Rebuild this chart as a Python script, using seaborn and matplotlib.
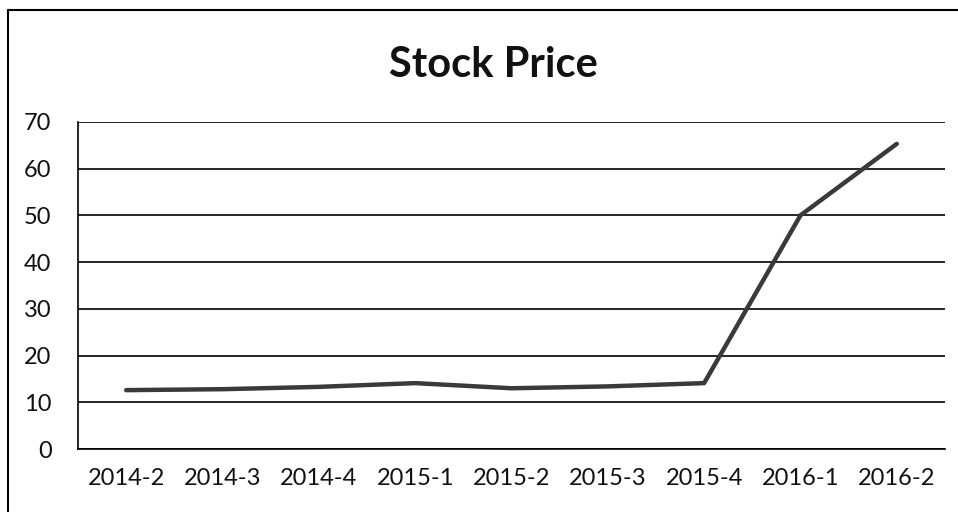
import numpy as np
import pandas as pd
import matplotlib
matplotlib.use("Agg")
import matplotlib.pyplot as plt
from matplotlib.lines import Line2D
import seaborn as sns

# values
quarters = ["2014-2", "2014-3", "2014-4", "2015-1", "2015-2",
            "2015-3", "2015-4", "2016-1", "2016-2"]
prices = [12.6, 12.8, 13.3, 14.1, 13.0, 13.4, 14.1, 50.0, 65.3]
y_ticks = [0, 10, 20, 30, 40, 50, 60, 70]

df = pd.DataFrame({"quarter": quarters, "price": prices})

sns.set_style("white")
plt.rcParams["font.family"] = ["Lato", "DejaVu Sans"]

fig = plt.figure(figsize=(9.58, 5.12), dpi=100)
ax = fig.add_axes([0.0814, 0.123, 0.905, 0.639])

sns.lineplot(data=df, x="quarter", y="price", ax=ax, color="#3a3a3a",
             linewidth=3.2, sort=False)

n = len(quarters)
ax.set_xlim(-0.5, n - 0.5)
ax.set_ylim(0, 70)
ax.set_yticks(y_ticks)
ax.set_xticks(range(n))
ax.set_xticklabels(quarters)
ax.set_xticks(np.arange(-0.5, n, 1.0), minor=True)
ax.tick_params(axis="x", which="major", length=0, pad=14, labelsize=17,
               colors="#111111")
ax.tick_params(axis="x", which="minor", length=7, width=1.2, color="black",
               direction="out")
ax.tick_params(axis="y", length=7, width=1.2, color="black", direction="out",
               labelsize=17, pad=12, colors="#111111")
for s in ["top", "right"]:
    ax.spines[s].set_visible(False)
for s in ["left", "bottom"]:
    ax.spines[s].set_color("black")
    ax.spines[s].set_linewidth(1.2)
ax.yaxis.grid(True, color="black", linewidth=1.2)
ax.set_axisbelow(True)
ax.set_xlabel("")
ax.set_ylabel("")

fig.text(0.515, 0.873, "Stock Price", ha="center", va="center",
         fontsize=30, fontweight="bold", color="#111111")

# chart border (left and top edges visible in the scan)
fig.add_artist(Line2D([8 / 958, 8 / 958], [0, 1 - 10 / 512],
                      transform=fig.transFigure, color="black", linewidth=1.5))
fig.add_artist(Line2D([8 / 958, 1], [1 - 10 / 512, 1 - 10 / 512],
                      transform=fig.transFigure, color="black", linewidth=1.5))

fig.savefig("out.png", dpi=100)
